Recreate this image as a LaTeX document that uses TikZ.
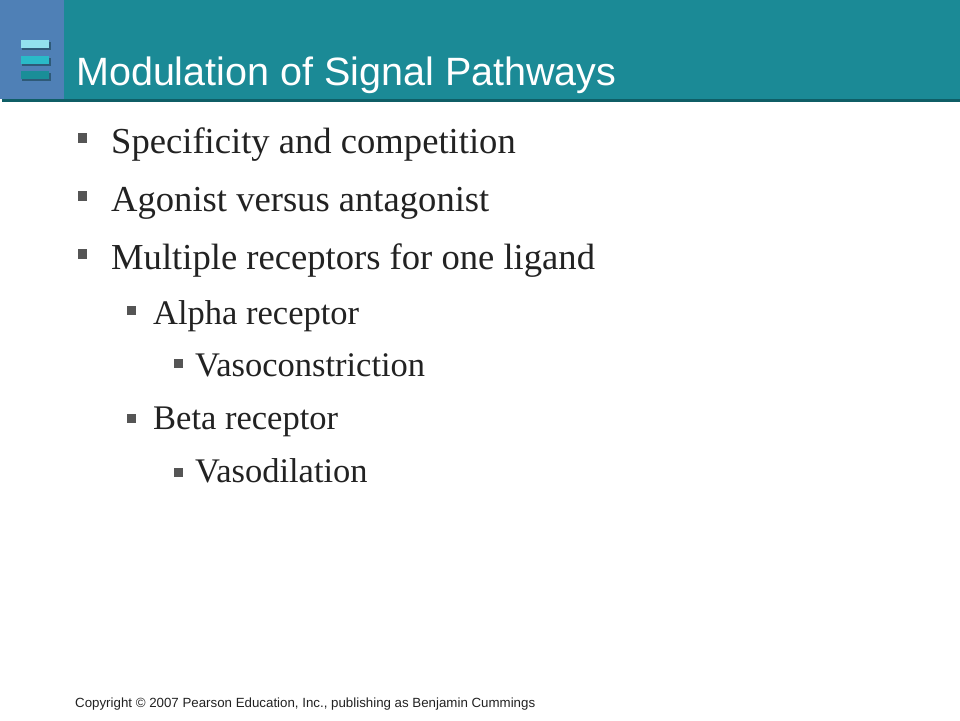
\documentclass[tikz,border=0pt]{standalone}
\usepackage{fontspec}
\setmainfont{Liberation Serif}
\newfontfamily\headfont{Liberation Sans}
\usetikzlibrary{positioning}

\definecolor{headteal}{HTML}{1B8A96}
\definecolor{headblue}{HTML}{4F80B6}
\definecolor{headline}{HTML}{0F5E66}
\definecolor{barA}{HTML}{92E1EE}
\definecolor{barB}{HTML}{2ABAC8}
\definecolor{barC}{HTML}{1A8E98}
\definecolor{barshadow}{HTML}{2E5A78}
\definecolor{bulletgray}{HTML}{555555}
\definecolor{bodytext}{HTML}{222222}

\tikzset{
  itemA/.style={anchor=base west, inner sep=0pt, text=bodytext, font=\fontsize{36.6}{40}\selectfont},
  itemB/.style={anchor=base west, inner sep=0pt, text=bodytext, font=\fontsize{34.5}{38}\selectfont},
  bulletA/.style={fill=bulletgray, minimum size=9.5pt, inner sep=0pt},
  bulletB/.style={fill=bulletgray, minimum size=9pt, inner sep=0pt},
  hbar/.style={minimum width=28pt, minimum height=8pt, inner sep=0pt, anchor=north west}
}

\begin{document}
\begin{tikzpicture}[x=1pt,y=-1pt]
\useasboundingbox (0,0) rectangle (960,720);
\fill[white] (0,0) rectangle (960,720);

% header
\fill[headteal] (0,0) rectangle (960,99);
\fill[headblue] (0,0) rectangle (64,99);
\fill[headline] (2,99) rectangle (960,101.5);

% icon
\fill[barshadow] (22,41.5) rectangle (50.5,49.5);
\fill[barshadow] (22,57.5) rectangle (50.5,65.5);
\fill[barshadow] (22,72.5) rectangle (50.5,80.5);
\path
(20.5,40)   node[hbar,fill=barA] (barA) {}
(20.5,56)   node[hbar,fill=barB] (barB) {}
(20.5,71)   node[hbar,fill=barC] (barC) {};

\node[anchor=base west, inner sep=0pt, text=white, font=\headfont\fontsize{39.5}{44}\selectfont] (title) at (76,85) {Modulation of Signal Pathways};

% bullet items
\path
(111,153)  node[itemA] (spec)  {Specificity and competition}
(111,211)  node[itemA] (agon)  {Agonist versus antagonist}
(111,269)  node[itemA] (multi) {Multiple receptors for one ligand}
(153,324)  node[itemB] (alpha) {Alpha receptor}
(195,376)  node[itemB] (vcon)  {Vasoconstriction}
(153,429)  node[itemB] (beta)  {Beta receptor}
(195,482)  node[itemB] (vdil)  {Vasodilation}
;

\path
(82.5,138) node[bulletA] (bspec)  {}
(82.5,196) node[bulletA] (bagon)  {}
(82.5,254) node[bulletA] (bmulti) {}
(131,310)  node[bulletB] (balpha) {}
(178,363)  node[bulletB] (bvcon)  {}
(131,418)  node[bulletB] (bbeta)  {}
(178,472)  node[bulletB] (bvdil)  {}
;

% footer
\node[anchor=base west, inner sep=0pt, text=bodytext, font=\headfont\fontsize{13.3}{15}\selectfont] (copy) at (75,707) {Copyright \textcopyright{} 2007 Pearson Education, Inc., publishing as Benjamin Cummings};

\end{tikzpicture}
\end{document}
